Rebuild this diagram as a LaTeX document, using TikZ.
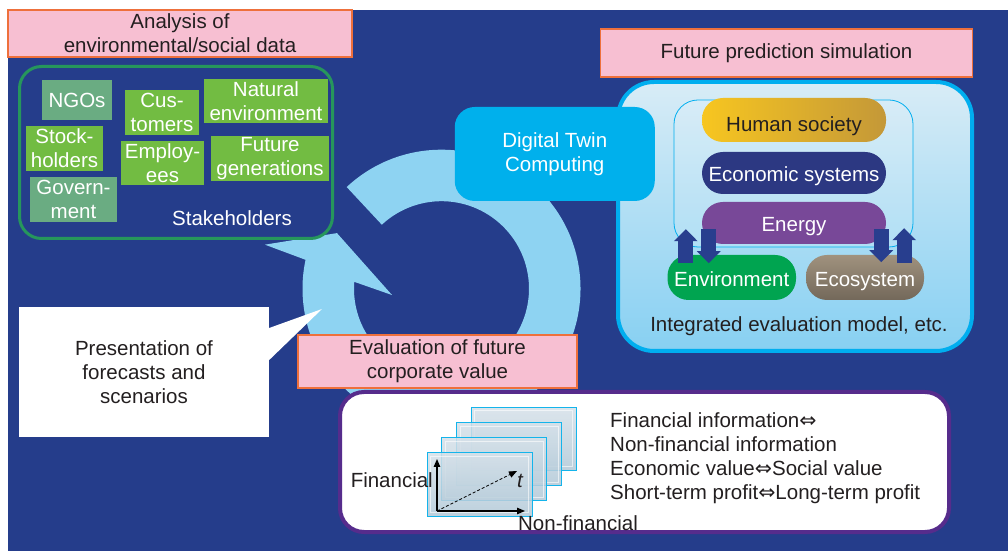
\documentclass[tikz,border=0pt]{standalone}
\usepackage{fontspec}
\setmainfont{Liberation Sans}
\newfontfamily\djvfont{DejaVu Sans}
\usepackage{tikz}
\usetikzlibrary{arrows.meta,calc,positioning}

\definecolor{bgblue}{RGB}{37,61,139}
\definecolor{ringblue}{RGB}{142,211,242}
\definecolor{pinkfill}{RGB}{247,191,210}
\definecolor{pinkline}{RGB}{238,112,60}
\definecolor{textdark}{RGB}{35,31,32}
\definecolor{stakeline}{RGB}{38,150,92}
\definecolor{stakegreen}{RGB}{114,188,66}
\definecolor{stakegray}{RGB}{106,172,130}
\definecolor{simcyan}{RGB}{0,174,239}
\definecolor{simtop}{RGB}{216,236,246}
\definecolor{simbot}{RGB}{135,208,242}
\definecolor{goldl}{RGB}{247,198,32}
\definecolor{goldr}{RGB}{196,152,56}
\definecolor{econblue}{RGB}{44,56,130}
\definecolor{energypurple}{RGB}{120,72,152}
\definecolor{envgreen}{RGB}{0,164,80}
\definecolor{ecotop}{RGB}{160,146,126}
\definecolor{ecobot}{RGB}{115,104,90}
\definecolor{arrownavy}{RGB}{40,62,142}
\definecolor{dtcyan}{RGB}{0,176,236}
\definecolor{evalpurple}{RGB}{86,44,140}
\definecolor{framecyan}{RGB}{20,180,235}
\definecolor{frametop}{RGB}{214,225,233}
\definecolor{framebot}{RGB}{178,201,216}

\newcommand{\eqvarrow}{{\djvfont ⇔}}

\begin{document}
\begin{tikzpicture}[x=1pt,y=1pt,
  every node/.style={font=\fontsize{20.5}{24}\selectfont,inner sep=0pt},
  pinkbox/.style={draw=pinkline,line width=1.2pt,fill=pinkfill,text=textdark,align=center},
  stake/.style={fill=stakegreen,text=white,align=center},
  stakegrey/.style={fill=stakegray,text=white,align=center},
  pill/.style={rounded corners=21pt,minimum width=184pt,minimum height=42pt,text=white,
    text height=21pt,text depth=3.5pt},
  fatarrow/.style={draw=arrownavy,line width=15pt,-{Triangle[width=23pt,length=12pt]}},
  timeframe/.style={draw=framecyan,line width=1pt,top color=frametop,bottom color=framebot,
    fill opacity=0.85,minimum width=105pt,minimum height=63pt},
  axisarrow/.style={line width=1.2pt,-{Triangle[length=8pt,width=6.5pt]}}]
  \fill[white] (0,0) rectangle (1008,551);
  \fill[bgblue] (8,0) rectangle (1008,541);
  \useasboundingbox (0,0) rectangle (1008,551);

  % cycle arrow
  \coordinate (ringc) at (441.5,262.3);
  \fill[ringblue] ($(ringc)+(133:139)$) arc[start angle=133,end angle=-192,radius=139]
    -- ($(ringc)+(166:182)$) -- ($(ringc)+(152:118.4)$) -- ($(ringc)+(187.3:49.9)$)
    -- ($(ringc)+(175.5:87.5)$) arc[start angle=-184.5,end angle=133,radius=87.5] -- cycle;

  % stakeholders
  \node[pinkbox,minimum width=344pt,minimum height=47pt] (analysis) at (180,517.5) {Analysis of\\environmental/social data};
  \node[draw=stakeline,line width=3pt,fill=bgblue,rounded corners=22pt,minimum width=313pt,minimum height=172pt] (stakeframe) at (176,398.5) {};
  \node[text=white] (stakelabel) at (232,333) {Stakeholders};
  \node[stakegrey,minimum width=70pt,minimum height=40pt] (ngos) at (77,451) {NGOs};
  \node[stake,minimum width=77pt,minimum height=45pt] (stock) at (64.5,402.5) {Stock-\\holders};
  \node[stakegrey,minimum width=87pt,minimum height=45pt] (govt) at (73.5,351.5) {Govern-\\ment};
  \node[stake,minimum width=74pt,minimum height=45pt] (cust) at (162,438.5) {Cus-\\tomers};
  \node[stake,minimum width=83pt,minimum height=44pt] (empl) at (162.5,388) {Employ-\\ees};
  \node[stake,minimum width=124pt,minimum height=44pt] (natural) at (266,450) {Natural\\environment};
  \node[stake,minimum width=118pt,minimum height=45pt] (future) at (270,392.5) {Future\\generations};

  % callout
  \node[fill=white,minimum width=250pt,minimum height=130pt,align=center,text=textdark] (present) at (144,179) {Presentation of\\forecasts and\\scenarios};
  \coordinate (presenttip) at (322,242);
  \fill[white] ([yshift=44pt]present.east) -- (presenttip) -- ([yshift=12pt]present.east) -- cycle;

  % simulation
  \node[draw=simcyan,line width=4pt,top color=simtop,bottom color=simbot,rounded corners=36pt,minimum width=354pt,minimum height=269pt] (simbox) at (795,334.5) {};
  \node[draw=simcyan,line width=0.8pt,fill=white,fill opacity=0.12,rounded corners=24pt,minimum width=239pt,minimum height=147pt] (inner) at (793.5,377.5) {};
  \node[pill,minimum height=44pt,text height=25pt,text depth=2pt,left color=goldl,right color=goldr,text=textdark] (human) at (794,431) {Human society};
  \node[pill,fill=econblue] (econ) at (794,378) {Economic systems};
  \node[pill,fill=energypurple] (energy) at (794,328) {Energy};
  \node[pill,minimum width=128.5pt,minimum height=45pt,fill=envgreen] (environment) at (731.75,273.5) {Environment};
  \node[pill,minimum width=118pt,minimum height=45pt,top color=ecotop,bottom color=ecobot] (ecosystem) at (865,273.5) {Ecosystem};
  \draw[fatarrow] ($(energy.south west)+(-16,-19)$) -- ++(0,34);
  \draw[fatarrow] ($(energy.south west)+(7,15)$) -- ++(0,-34);
  \draw[fatarrow] ($(energy.south east)+(-5,15)$) -- ++(0,-33);
  \draw[fatarrow] ($(energy.south east)+(18,-19)$) -- ++(0,35);
  \node[text=textdark] (integrated) at (799,225) {Integrated evaluation model, etc.};
  \node[pinkbox,minimum width=372pt,minimum height=48pt] (futurepred) at (786.5,498) {Future prediction simulation};
  \node[fill=dtcyan,rounded corners=20pt,minimum width=200pt,minimum height=94pt,text=white,align=center] (dtc) at (554.75,397) {Digital Twin\\Computing};

  % corporate value
  \node[pinkbox,minimum width=279pt,minimum height=53pt] (evalbox) at (437.5,189.5) {Evaluation of future\\corporate value};
  \node[draw=evalpurple,line width=4pt,fill=white,rounded corners=24pt,minimum width=609pt,minimum height=140pt] (valuebox) at (644.5,89) {};
  \foreach \k in {3,2,1,0}{
    \node[timeframe] (frame\k) at ({479.5+14.7*\k},{66.5+15.3*\k}) {};
    \draw[white,line width=0.6pt,opacity=0.6] ([shift={(4,-4)}]frame\k.north west) rectangle ([shift={(-4,4)}]frame\k.south east);
  }
  \coordinate (origin) at (437,40);
  \draw[axisarrow] (origin) -- ++(0,52);
  \draw[axisarrow] (origin) -- ++(88,0);
  \draw[densely dashed,line width=0.8pt,-{Triangle[length=8pt,width=6.5pt]}] (origin) -- ++(80,40);
  \node[text=textdark] (tlabel) at (520,70) {\itshape t};
  \node[anchor=east,text=textdark] (finlabel) at (433,71) {Financial};
  \node[text=textdark] (nonfin) at (578,28) {Non-financial};
  \node[anchor=west,align=left,text=textdark] (valuetext) at (610,93) {Financial information\eqvarrow\\Non-financial information\\Economic value\eqvarrow Social value\\Short-term profit\eqvarrow Long-term profit};
\end{tikzpicture}
\end{document}
